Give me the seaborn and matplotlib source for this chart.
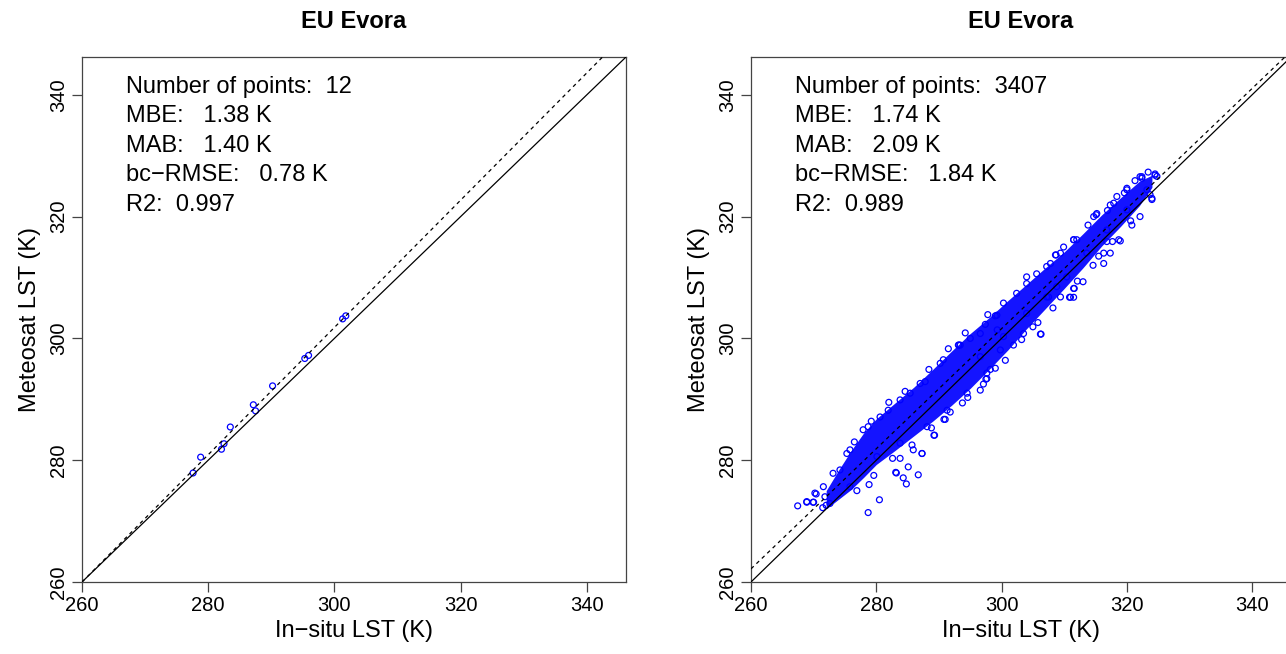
import matplotlib
matplotlib.use("Agg")
import matplotlib.pyplot as plt
import seaborn as sns
import pandas as pd

# left panel: the 12 matchups
left_insitu = [277.6, 278.8, 282.1, 282.5, 283.5, 287.15, 287.5, 290.2, 295.3, 295.9, 301.3, 301.8]
left_meteosat = [277.9, 280.5, 281.8, 282.7, 285.45, 289.1, 288.1, 292.2, 296.7, 297.2, 303.2, 303.7]

# right panel: dense core of the 3407-point cloud (edges)
band_x = [272, 274, 276, 278, 280, 283, 286, 289, 292, 295, 298, 301, 304, 307, 310, 313, 316, 319, 322, 324]
band_hi = [275.0, 278.4, 281.6, 284.5, 286.8, 289.4, 292.0, 294.9, 297.9, 300.8, 303.4, 306.2,
           308.9, 311.6, 314.2, 317.2, 320.3, 323.1, 325.8, 326.8]
band_lo = [272.0, 273.6, 275.2, 277.2, 279.3, 281.6, 284.0, 286.4, 289.0, 291.8, 294.9, 298.1,
           301.6, 304.9, 308.2, 311.6, 315.2, 318.4, 321.8, 324.8]

# right panel: loose points around the edge of the cloud
edge_insitu = [267.45, 268.9, 269.9, 270.4, 278.7, 280.5, 278.85, 283.1, 284.3, 284.8, 286.7, 287.3,
               289.2, 290.8, 285.1, 285.9, 271.45, 272.0, 306.3, 299.25, 297.4, 293.2, 308.7, 307.5,
               305.8, 303.5, 301.9, 299.0, 297.65, 311.5, 316.3, 315.5, 317.35, 318.95, 322.1, 324.0,
               324.5, 313.0, 311.5, 310.85, 311.6, 309.4, 315.1, 317.35, 320.0, 322.4, 283.2, 283.8,
               287.3, 289.3, 291.0, 293.75, 296.6, 297.5, 298.2, 268.9, 270.0, 270.2, 271.8, 274.2,
               275.8, 278.7, 281.9, 285.4, 287.8, 290.7, 293.1, 295.0, 299.0, 306.2, 308.8, 311.0,
               311.5, 316.3, 316.8, 318.7, 320.8, 324.0, 299.3, 308.6, 311.5, 315.2, 317.9, 320.0,
               322.4, 324.5, 307.8, 304.0, 271.55, 273.1, 275.3, 277.9, 280.6, 283.8, 287.0, 290.2,
               293.4, 296.6, 300.3, 304.0, 307.2, 309.4, 312.0, 314.7, 318.4, 322.1, 272.6, 275.8,
               280.1, 283.8, 288.1, 291.3, 294.5, 297.65, 299.8, 296.6, 300.3, 304.0, 307.2, 310.4,
               313.6, 316.8, 320.0, 323.2, 324.8,
               276.5, 279.2, 282.0, 284.6, 288.4, 291.5, 294.2, 297.8, 302.4, 305.6, 309.9, 313.8,
               316.9, 319.6, 321.3, 323.4, 276.9, 279.6, 282.6, 285.7, 288.8, 291.8, 294.6, 297.1,
               300.6, 303.2, 305.0, 308.2, 312.1, 314.6, 317.7, 320.6, 323.7]
edge_meteosat = [272.5, 273.1, 273.1, 274.45, 271.4, 273.5, 276.0, 278.0, 277.1, 276.1, 277.6, 281.1,
                 284.1, 286.7, 278.9, 281.7, 272.2, 272.6, 300.7, 303.8, 302.3, 298.9, 313.7, 306.8,
                 302.6, 300.8, 298.9, 295.1, 293.4, 316.2, 312.3, 313.5, 314.0, 316.0, 320.0, 322.8,
                 327.0, 309.3, 306.75, 306.75, 308.2, 306.8, 320.3, 321.9, 324.65, 326.55, 277.9, 280.3,
                 281.1, 284.1, 286.7, 289.4, 291.5, 293.3, 294.9, 273.2, 273.1, 274.6, 274.0, 278.4,
                 281.7, 285.5, 288.2, 291.0, 292.9, 296.5, 298.9, 300.0, 303.7, 300.7, 308.5, 306.75,
                 308.2, 314.0, 315.9, 316.2, 318.6, 323.0, 301.4, 313.7, 316.2, 320.5, 322.2, 324.4,
                 326.3, 326.8, 312.3, 310.1, 275.65, 277.85, 281.1, 285.0, 287.1, 289.9, 292.6, 295.9,
                 298.9, 300.8, 305.8, 309.0, 311.8, 314.0, 316.2, 320.0, 323.3, 326.55, 272.9, 275.65,
                 280.6, 282.8, 285.5, 288.2, 291.0, 294.3, 298.1, 297.0, 300.3, 304.1, 306.8, 310.1,
                 314.0, 317.8, 321.1, 324.4, 326.6,
                 283.0, 286.4, 289.5, 291.3, 294.9, 298.3, 300.9, 303.9, 307.4, 310.6, 315.0, 318.6,
                 321.0, 323.9, 325.9, 327.3, 275.0, 277.5, 280.3, 282.5, 285.3, 287.9, 290.3, 292.5,
                 296.4, 299.8, 301.9, 305.0, 309.4, 312.0, 315.9, 319.3, 323.6]

# fitted lines (intercept, slope) and stats text
left_fit = (-11.7, 1.045)
right_fit = (5.8, 0.986)
left_stats = ["Number of points:  12", "MBE:   1.38 K", "MAB:   1.40 K", "bc\u2212RMSE:   0.78 K", "R2:  0.997"]
right_stats = ["Number of points:  3407", "MBE:   1.74 K", "MAB:   2.09 K", "bc\u2212RMSE:   1.84 K", "R2:  0.989"]
site = "EU Evora"
lims = (260, 346.2)
ticks = [260, 280, 300, 320, 340]

sns.set_style("white")
plt.rcParams["font.family"] = ["Liberation Sans", "DejaVu Sans"]
plt.rcParams["text.color"] = "black"
plt.rcParams["axes.labelcolor"] = "black"
plt.rcParams["xtick.color"] = "black"
plt.rcParams["ytick.color"] = "black"

fig = plt.figure(figsize=(12.86, 6.54), dpi=100)
ax_l = fig.add_axes([82 / 1286, 72 / 654, 544 / 1286, 525 / 654])
ax_r = fig.add_axes([751 / 1286, 72 / 654, 540 / 1286, 525 / 654])


def style_axes(ax, stats):
    ax.set_xlim(lims)
    ax.set_ylim(lims)
    ax.set_xticks(ticks)
    ax.set_yticks(ticks)
    ax.tick_params(direction="out", length=7, width=0.9, color="#444444", labelsize=14.5, pad=3,
                   bottom=True, left=True)
    for lab in ax.get_yticklabels():
        lab.set_rotation(90)
        lab.set_va("center")
    for sp in ax.spines.values():
        sp.set_color("#444444")
        sp.set_linewidth(0.9)
    ax.set_xlabel("In\u2212situ LST (K)", fontsize=17, labelpad=4)
    ax.set_ylabel("Meteosat LST (K)", fontsize=17, labelpad=6)
    for i, line in enumerate(stats):
        ax.text(267.0, 341.3 - i * 4.85, line, fontsize=17, va="center", ha="left")


def draw_lines(ax, fit):
    ax.plot(lims, lims, color="black", lw=0.9, zorder=5)
    a, b = fit
    ax.plot(lims, [a + b * lims[0], a + b * lims[1]], color="black", lw=0.9,
            ls=(0, (3, 3)), zorder=5)


# left panel
df_l = pd.DataFrame({"insitu": left_insitu, "meteosat": left_meteosat})
sns.scatterplot(data=df_l, x="insitu", y="meteosat", ax=ax_l, marker="o", s=18,
                facecolors="none", edgecolor="blue", linewidth=0.9, zorder=3)
draw_lines(ax_l, left_fit)
style_axes(ax_l, left_stats)

# right panel
ax_r.fill_between(band_x, band_lo, band_hi, color="blue", alpha=0.92, lw=0, zorder=2)
df_r = pd.DataFrame({"insitu": edge_insitu, "meteosat": edge_meteosat})
sns.scatterplot(data=df_r, x="insitu", y="meteosat", ax=ax_r, marker="o", s=18,
                facecolors="none", edgecolor="blue", linewidth=0.9, zorder=3)
draw_lines(ax_r, right_fit)
style_axes(ax_r, right_stats)

for ax in (ax_l, ax_r):
    pos = ax.get_position()
    fig.text((pos.x0 + pos.x1) / 2 if ax is ax_l else 1021 / 1286, 1 - 22 / 654, site,
             fontsize=17, fontweight="bold", ha="center", va="center")

fig.savefig("out.png", dpi=100)
